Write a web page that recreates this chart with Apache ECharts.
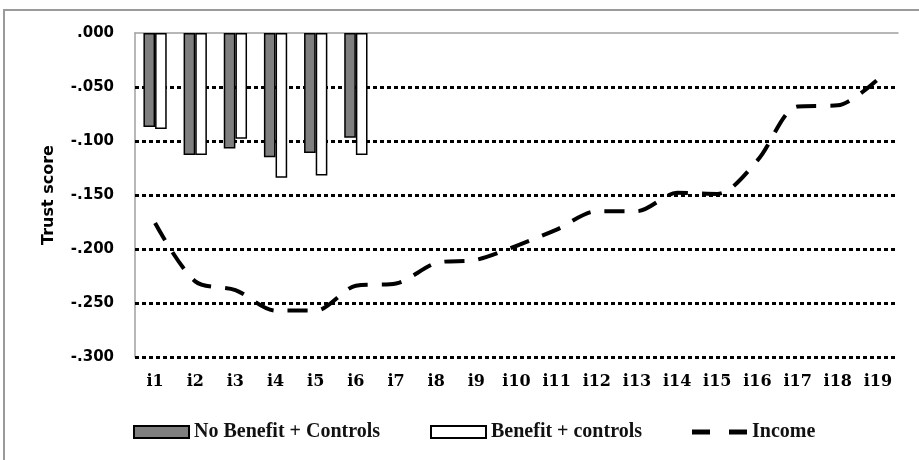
<!DOCTYPE html>
<html>
<head>
<meta charset="utf-8">
<script src="https://cdn.jsdelivr.net/npm/echarts@6/dist/echarts.min.js"></script>
<style>
html,body{margin:0;padding:0;background:#fff;}
#c{width:919px;height:460px;}
</style>
</head>
<body>
<div id="c"></div>
<script>
var categories = ['i1','i2','i3','i4','i5','i6','i7','i8','i9','i10','i11','i12','i13','i14','i15','i16','i17','i18','i19'];
var noBenefit = [-0.087, -0.113, -0.107, -0.115, -0.111, -0.097];
var benefit = [-0.089, -0.113, -0.098, -0.134, -0.132, -0.113];
var income = [-0.176, -0.230, -0.238, -0.257, -0.257, -0.234, -0.232, -0.213, -0.210, -0.197, -0.182, -0.165, -0.165, -0.148, -0.149, -0.118, -0.068, -0.067, -0.043];
var gridValues = [-0.05, -0.10, -0.15, -0.20, -0.25, -0.30];

function fmt(v){
  var s = Math.abs(v) < 1e-9 ? '0.000' : v.toFixed(3);
  return s.replace('0.', '.');
}

var chart = echarts.init(document.getElementById('c'));
var legendText = {fontFamily:'Liberation Serif', fontWeight:'bold', fontSize:20, color:'#111'};
function legendAt(left, name, extra){
  return Object.assign({
    top:417, left:left, itemWidth:55, itemHeight:12, itemGap:0,
    textStyle:legendText, selectedMode:false, data:[{name:name, icon:'rect'}]
  }, extra || {});
}
chart.setOption({
  animation:false,
  backgroundColor:'#fff',
  graphic:[
    {type:'rect', shape:{x:4,y:10,width:940,height:480}, style:{fill:'none', stroke:'#9a9a9a', lineWidth:2}, z:-1},
    {type:'text', left:6, top:-13, style:{text:'2a. Trust', fontFamily:'DejaVu Sans', fontSize:15, fill:'#777'}}
  ],
  grid:{left:135, right:21, top:33, bottom:103},
  legend:[
    legendAt(128, 'No Benefit + Controls'),
    legendAt(425, 'Benefit + controls'),
    legendAt(687, 'Income', {itemHeight:5, data:[{name:'Income', icon:'path://M0,0H18V5H0Z M37,0H55V5H37Z'}]})
  ],
  xAxis:[
    {type:'category', data:categories, position:'bottom',
     axisLine:{show:false, onZero:false}, axisTick:{show:false},
     axisLabel:{margin:17, fontFamily:'DejaVu Serif', fontWeight:'bold', fontSize:16, color:'#000'}},
    {type:'category', data:categories, position:'top',
     axisLine:{show:true, onZero:false, lineStyle:{color:'#a0a0a0', width:1.5}}, axisTick:{show:false}, axisLabel:{show:false}}
  ],
  yAxis:{
    type:'value', min:-0.3, max:0, interval:0.05,
    name:'Trust score', nameLocation:'middle', nameGap:78,
    nameTextStyle:{fontFamily:'DejaVu Sans', fontWeight:'bold', fontSize:16, color:'#000'},
    axisLine:{show:true, lineStyle:{color:'#a0a0a0', width:1.5}},
    axisTick:{show:false},
    splitLine:{show:false},
    axisLabel:{margin:21, formatter:fmt, fontFamily:'DejaVu Sans', fontWeight:'bold', fontSize:15, color:'#000'}
  },
  series:[
    {name:'No Benefit + Controls', type:'bar', data:noBenefit, barGap:'0%', barCategoryGap:'42%',
     itemStyle:{color:'#7f7f7f', borderColor:'#000', borderWidth:1.5}},
    {name:'Benefit + controls', type:'bar', data:benefit,
     itemStyle:{color:'#fff', borderColor:'#000', borderWidth:1.5}},
    {name:'Income', type:'line', data:income, smooth:0.3, symbol:'none', z:5,
     lineStyle:{color:'#000', width:4, type:[20,14], cap:'butt'},
     itemStyle:{color:'#000'},
     markLine:{silent:true, symbol:'none', label:{show:false}, z:1,
       lineStyle:{color:'#000', width:3, type:[4,3], cap:'butt'},
       data:gridValues.map(function(v){return {yAxis:v};})}}
  ]
});
</script>
</body>
</html>
